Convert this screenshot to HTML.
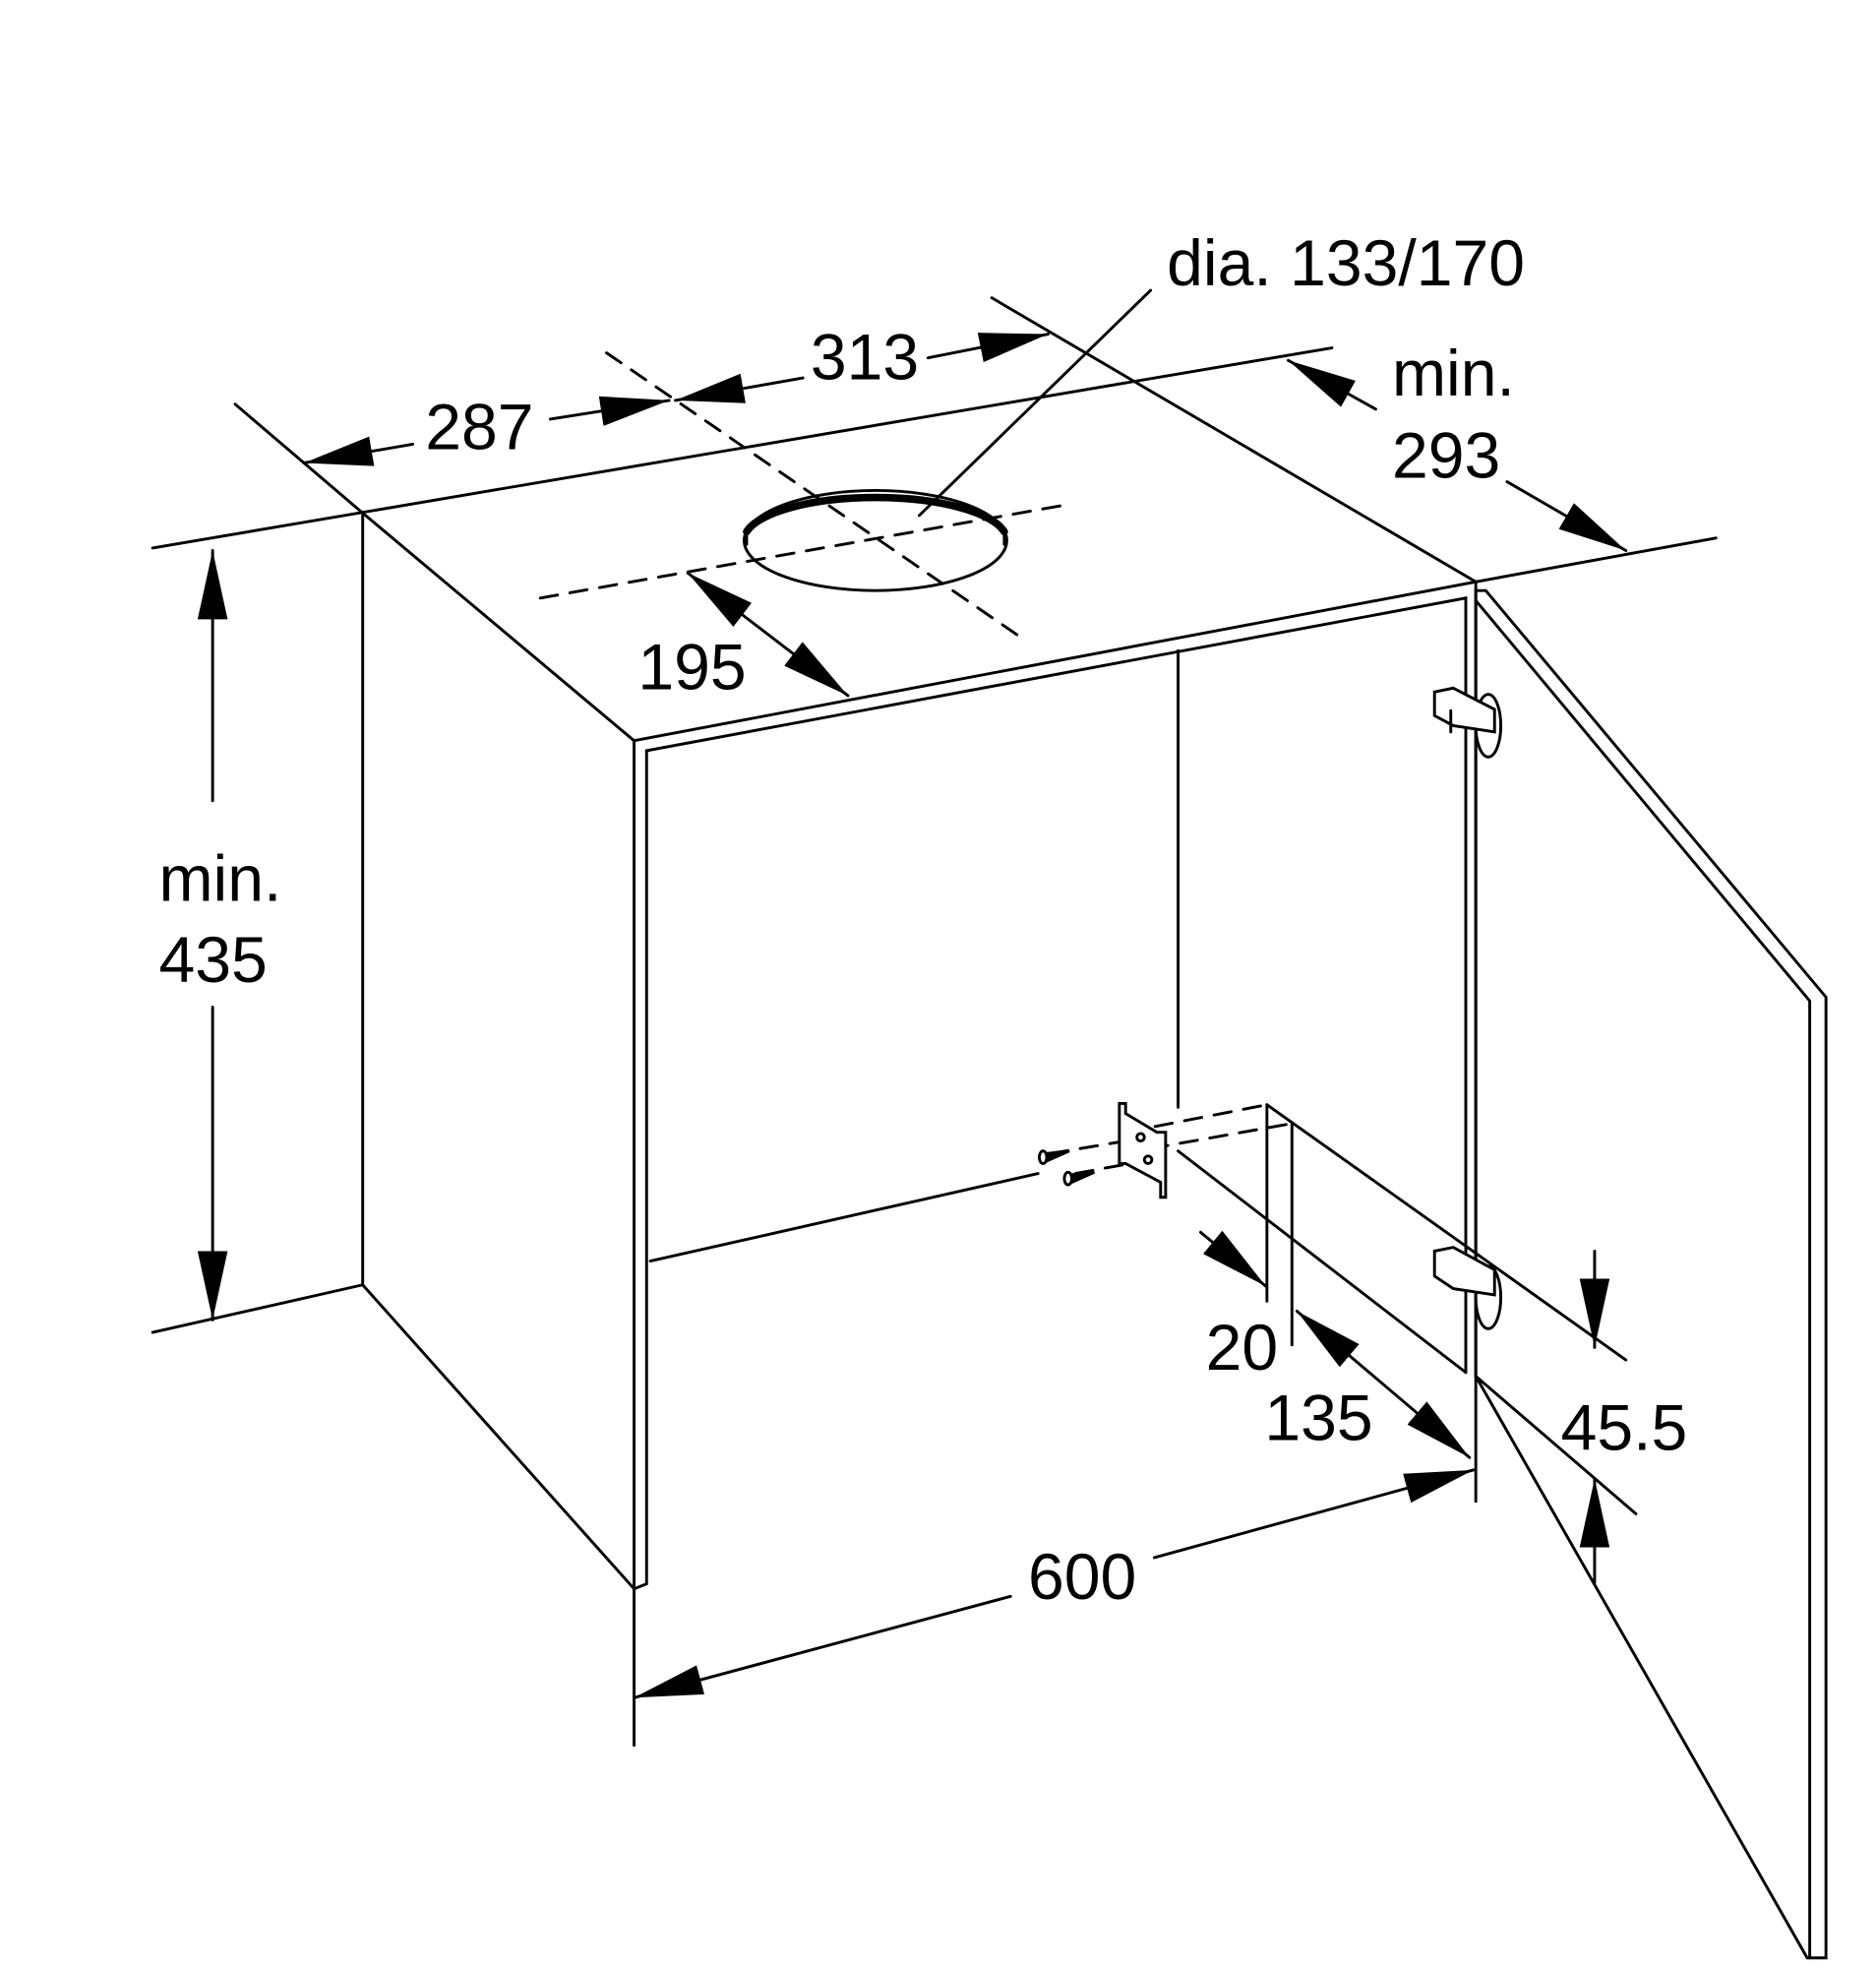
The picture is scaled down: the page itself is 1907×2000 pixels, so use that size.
<!DOCTYPE html>
<html><head><meta charset="utf-8"><style>
html,body{margin:0;padding:0;background:#fff}
svg{display:block}
text{font-family:"Liberation Sans",Arial,sans-serif;font-size:52px;fill:#000}
</style></head><body>
<svg width="1907" height="2000" viewBox="0 0 1500 1573" xmlns="http://www.w3.org/2000/svg">
<defs>
<marker id="a" viewBox="0 0 10 10" refX="10" refY="5" markerWidth="55" markerHeight="24" markerUnits="userSpaceOnUse" orient="auto-start-reverse" preserveAspectRatio="none">
<path d="M0,0 L10,5 L0,10 z" fill="#000"/></marker>
</defs>
<g stroke="#000" stroke-width="2.3" fill="none" stroke-linecap="round">
<line x1="122" y1="438" x2="1065" y2="278"/>
<line x1="1180" y1="465" x2="1372" y2="430"/>
<line x1="122" y1="1065" x2="290" y2="1027"/>
<line x1="290" y1="410" x2="290" y2="1027"/>
<line x1="290" y1="1027" x2="507" y2="1270"/>
<line x1="290" y1="410" x2="507" y2="592"/>
<line x1="793" y1="238" x2="1180" y2="465"/>
<line x1="188" y1="323" x2="290" y2="410"/>
<polyline points="507,1270 507,592 1180,465 1180,1100"/>
<polyline points="507,1270 517,1266 517,600 1172,478 1172,1097"/>
<line x1="942" y1="520" x2="942" y2="885"/>
<line x1="520" y1="1008" x2="830" y2="938"/>
<line x1="942" y1="920" x2="1172" y2="1097"/>
<line x1="1013" y1="883" x2="1013" y2="1040"/>
<line x1="1033" y1="898" x2="1033" y2="1075"/>
<line x1="1013" y1="883" x2="1300" y2="1087"/>
<line x1="1180" y1="1100" x2="1308" y2="1210"/>
<line x1="507" y1="1270" x2="507" y2="1395"/>
<line x1="1180" y1="1100" x2="1180" y2="1200"/>
<polygon points="1180,472 1188,472 1460,797 1460,1565 1445,1565 1180,1100"/>
<line x1="1180" y1="480" x2="1447" y2="800"/>
<line x1="1447" y1="800" x2="1447" y2="1565"/>
<g stroke-dasharray="14,10">
<line x1="485" y1="282" x2="820" y2="512"/>
<line x1="432" y1="478" x2="855" y2="403"/>
<line x1="900" y1="905" x2="1013" y2="883"/>
<line x1="920" y1="918" x2="1033" y2="898"/>
<line x1="840" y1="922" x2="900" y2="912"/>
<line x1="860" y1="938" x2="920" y2="927"/>
</g>
<ellipse cx="700" cy="432" rx="105" ry="40"/>
<path d="M597,425 A105,34 0 0 1 803,425" stroke-width="6"/>
<line x1="597" y1="425" x2="597" y2="435"/>
<line x1="803" y1="425" x2="803" y2="435"/>
<line x1="920" y1="232" x2="735" y2="412"/>
<polygon points="895,882 900,882 900,890 925,905 932,905 932,957 928,957 928,945 900,930 895,930" fill="#fff"/>
<circle cx="912" cy="909" r="3"/><circle cx="918" cy="927" r="3"/>
<ellipse cx="834" cy="925" rx="3" ry="5"/><path d="M837,922 L855,920 L837,928z" fill="#000"/>
<ellipse cx="854" cy="942" rx="3" ry="5"/><path d="M857,939 L875,937 L857,945z" fill="#000"/>
<g fill="#fff">
<ellipse cx="1190" cy="580" rx="10" ry="25"/>
<polygon points="1147,553 1162,550 1195,567 1195,585 1162,580 1147,572"/>
<line x1="1160" y1="568" x2="1160" y2="585"/>
<ellipse cx="1190" cy="1037" rx="10" ry="25"/>
<polygon points="1147,1000 1162,997 1195,1015 1195,1035 1162,1030 1147,1020"/>
</g>
<line x1="170" y1="440" x2="170" y2="640" marker-start="url(#a)"/>
<line x1="170" y1="805" x2="170" y2="1055" marker-end="url(#a)"/>
<line x1="243" y1="370" x2="330" y2="355" marker-start="url(#a)"/>
<line x1="440" y1="335" x2="535" y2="320" marker-end="url(#a)"/>
<line x1="540" y1="320" x2="642" y2="302" marker-start="url(#a)"/>
<line x1="742" y1="286" x2="838" y2="267" marker-end="url(#a)"/>
<line x1="1030" y1="288" x2="1100" y2="327" marker-start="url(#a)"/>
<line x1="1205" y1="385" x2="1300" y2="440" marker-end="url(#a)"/>
<line x1="550" y1="458" x2="678" y2="556" marker-start="url(#a)" marker-end="url(#a)"/>
<line x1="507" y1="1357" x2="808" y2="1276" marker-start="url(#a)"/>
<line x1="923" y1="1245" x2="1178" y2="1175" marker-end="url(#a)"/>
<line x1="960" y1="985" x2="1012" y2="1028" marker-end="url(#a)"/>
<line x1="1037" y1="1048" x2="1175" y2="1165" marker-start="url(#a)" marker-end="url(#a)"/>
<line x1="1275" y1="1000" x2="1275" y2="1077" marker-end="url(#a)"/>
<line x1="1275" y1="1265" x2="1275" y2="1182" marker-end="url(#a)"/>
</g>
<text x="933" y="228">dia. 133/170</text>
<text x="648" y="303">313</text>
<text x="340" y="359">287</text>
<text x="1113" y="316">min.</text>
<text x="1113" y="382">293</text>
<text x="510" y="551">195</text>
<text x="127" y="720">min.</text>
<text x="127" y="785">435</text>
<text x="822" y="1278">600</text>
<text x="964" y="1095">20</text>
<text x="1011" y="1151">135</text>
<text x="1248" y="1159">45.5</text>
</svg>
</body></html>
